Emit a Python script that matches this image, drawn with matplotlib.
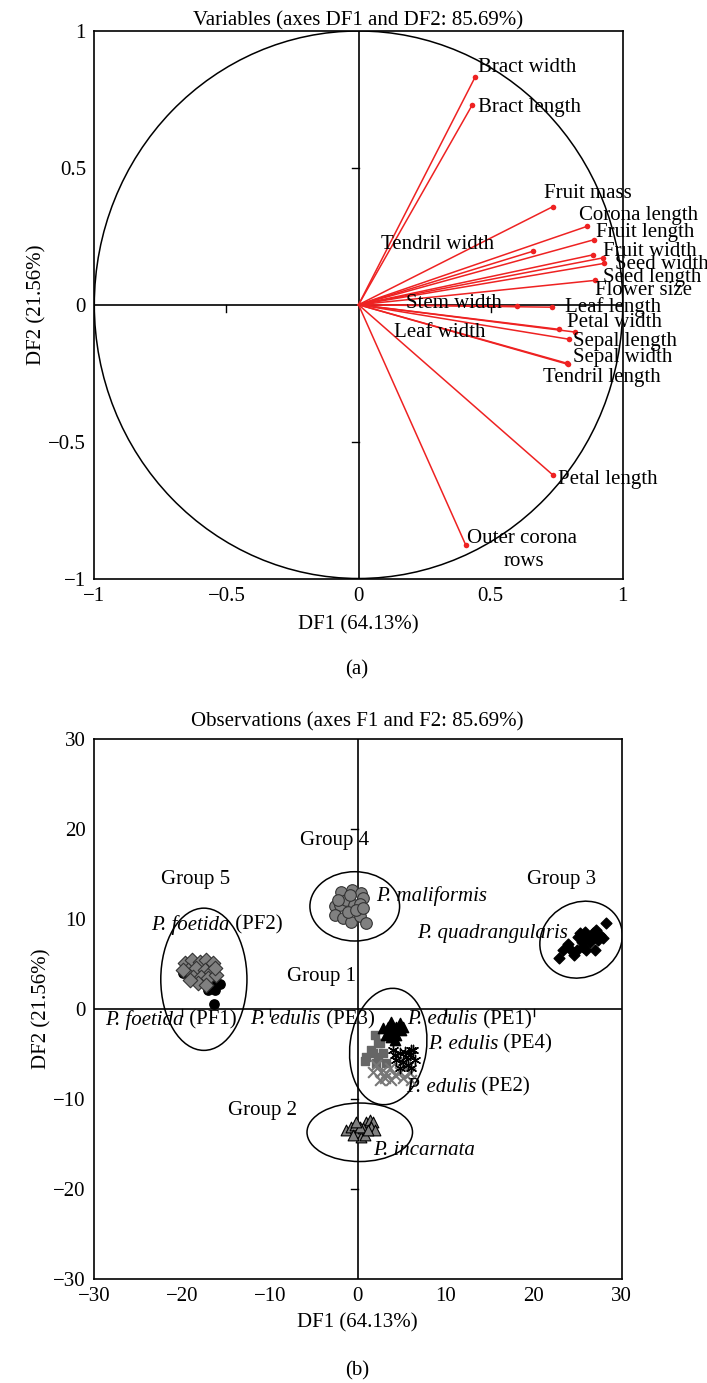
import matplotlib.pyplot as plt
from matplotlib.patches import Circle, Ellipse

plt.rcParams['font.family'] = ['Liberation Serif', 'DejaVu Serif']
plt.rcParams['axes.linewidth'] = 1.2

# ---- panel (a): variable loadings on DF1 / DF2 ----
var_names = ['Bract width', 'Bract length', 'Fruit mass', 'Corona length', 'Fruit length',
             'Tendril width', 'Fruit width', 'Seed width', 'Seed length', 'Flower size',
             'Leaf length', 'Stem width', 'Petal width', 'Sepal length', 'Sepal width',
             'Tendril length', 'Leaf width', 'Petal length', 'Outer corona\nrows']
df1 = [0.441, 0.430, 0.735, 0.864, 0.893, 0.659, 0.886, 0.929, 0.895, 0.924,
       0.734, 0.600, 0.821, 0.797, 0.794, 0.790, 0.760, 0.737, 0.406]
df2 = [0.831, 0.729, 0.358, 0.286, 0.238, 0.195, 0.182, 0.151, 0.089, 0.171,
       -0.009, -0.005, -0.100, -0.126, -0.218, -0.214, -0.090, -0.623, -0.878]
# label anchor positions (left edge, vertical centre)
lab_x = [0.454, 0.454, 0.703, 0.834, 0.899, 0.086, 0.926, 0.971, 0.926, 0.895,
         0.781, 0.180, 0.789, 0.812, 0.812, 0.699, 0.134, 0.755, 0.410]
lab_y = [0.866, 0.720, 0.406, 0.325, 0.263, 0.219, 0.194, 0.146, 0.099, 0.051,
         -0.007, 0.004, -0.066, -0.135, -0.194, -0.267, -0.102, -0.640, -0.855]
unit_ticks = [-1, -0.5, 0, 0.5, 1]
unit_labels = ['\u22121', '\u22120.5', '0', '0.5', '1']

# ---- panel (b): observations ----
pe_mal_x = [-1.86, -0.61, 0.42, 0.61, -2.62, -2.05, -1.29, -0.46, 0.23, -2.62,
            -1.67, -0.72, 0.23, 0.99, -1.10, -0.15, 0.61, -2.24, -0.91]
pe_mal_y = [13.0, 13.2, 12.9, 12.3, 11.4, 11.6, 12.1, 11.6, 11.7, 10.4,
            10.1, 9.7, 10.3, 9.6, 10.8, 11.0, 11.2, 12.1, 12.7]
pf2_x = [-19.68, -18.81, -17.97, -17.21, -16.46, -19.30, -18.35, -17.41, -16.65,
         -18.73, -17.78, -17.03, -16.08, -18.17, -17.21, -19.11, -19.87, -16.27]
pf2_y = [5.07, 5.44, 5.26, 5.44, 5.07, 4.33, 4.52, 4.33, 4.15,
         3.59, 3.59, 3.41, 3.78, 2.85, 2.67, 3.22, 4.33, 4.52]
pf1_x = [-19.87, -16.84, -16.27, -15.70, -17.03, -16.65, -16.38, -17.41]
pf1_y = [3.96, 2.48, 2.11, 2.74, 2.11, 3.04, 0.56, 3.59]
quad_x = [22.90, 23.29, 23.93, 24.31, 24.57, 25.07, 25.45, 25.26, 25.82, 26.20, 26.39,
          26.96, 27.15, 27.53, 27.91, 28.29, 25.63, 26.01, 24.88, 26.77, 27.34, 26.58]
quad_y = [5.63, 6.56, 7.22, 6.56, 6.00, 8.04, 7.48, 8.41, 8.59, 8.04, 7.48,
          6.56, 8.78, 8.22, 7.85, 9.59, 6.93, 6.56, 6.56, 8.41, 7.67, 7.85]
inc_x = [-1.29, -0.72, -0.34, 0.04, 0.42, 0.80, 0.99, 1.37, 1.74, 1.56, 1.93,
         0.61, -0.53, 0.23, 1.18, -0.15]
inc_y = [-13.44, -13.15, -12.89, -13.63, -14.19, -14.00, -12.52, -12.33, -12.52,
         -13.15, -13.44, -13.26, -14.00, -13.07, -13.44, -12.52]
pe1_x = [2.88, 3.45, 3.83, 4.02, 4.40, 4.78, 4.97, 3.26, 3.83, 4.40, 5.16, 4.21, 3.56]
pe1_y = [-2.15, -1.96, -1.41, -2.33, -1.96, -1.59, -2.33, -2.89, -3.07, -2.89,
         -1.96, -3.44, -2.52]
pe3_x = [1.93, 1.56, 2.50, 0.99, 2.31, 0.80, 1.74, 2.31, 2.88, 3.26, 2.12]
pe3_y = [-2.89, -4.56, -3.81, -5.30, -5.30, -5.74, -4.93, -3.81, -4.93, -6.04, -6.04]
pe4_x = [4.02, 4.78, 5.35, 5.92, 6.29, 4.40, 5.16, 5.73, 6.11, 4.78, 5.54, 6.48, 4.21, 6.11]
pe4_y = [-4.56, -4.93, -4.74, -5.11, -4.56, -5.67, -5.85, -6.22, -6.59, -6.59,
         -5.30, -5.67, -5.11, -4.56]
pe2_x = [2.12, 2.69, 2.50, 3.26, 3.64, 4.21, 4.78, 5.16, 5.92, 6.11, 3.07, 3.83, 1.74, 5.35]
pe2_y = [-6.22, -6.96, -7.89, -7.15, -6.59, -7.33, -6.96, -7.70, -7.15, -7.89,
         -7.70, -7.89, -6.96, -6.41]

# group ellipses: centre x, centre y, width, height, angle
ell_cx = [-0.34, -17.5, 25.4, 3.47, 0.23]
ell_cy = [11.4, 3.3, 7.7, -4.17, -13.7]
ell_w = [10.2, 9.8, 9.6, 8.7, 12.0]
ell_h = [7.7, 15.8, 8.3, 13.0, 6.5]
ell_ang = [0, 0, 25, -8, 0]

group_names = ['Group 4', 'Group 5', 'Group 3', 'Group 1', 'Group 2']
group_x = [-2.6, -18.4, 23.2, -4.1, -10.8]
group_y = [18.7, 14.4, 14.4, 3.6, -11.3]

sp_names = ['P. maliformis', 'P. quadrangularis', 'P. foetida', 'P. foetida', 'P. edulis',
            'P. edulis', 'P. edulis', 'P. edulis', 'P. incarnata']
sp_codes = ['', '', ' (PF2)', ' (PF1)', ' (PE3)', ' (PE1)', ' (PE4)', ' (PE2)', '']
sp_x = [2.05, 6.8, -23.5, -28.7, -12.2, 5.65, 7.96, 5.5, 1.8]
sp_y = [12.5, 8.4, 9.3, -1.2, -1.2, -1.2, -3.9, -8.7, -15.7]

obs_ticks = [-30, -20, -10, 0, 10, 20, 30]
obs_labels = ['\u221230', '\u221220', '\u221210', '0', '10', '20', '30']

FS = 15

fig = plt.figure(figsize=(7.07, 13.83), dpi=100)
ax1 = fig.add_axes([0.1334, 0.5817, 0.7474, 0.3959])
ax2 = fig.add_axes([0.1329, 0.0752, 0.7462, 0.3905])


def zero_axes(ax, ticks, dx, dy):
    ax.axhline(0, color='black', lw=1.2, zorder=1)
    ax.axvline(0, color='black', lw=1.2, zorder=1)
    for t in ticks[1:-1]:
        if t == 0:
            continue
        ax.plot([t, t], [0, -dy], color='black', lw=1, zorder=1)
        ax.plot([0, -dx], [t, t], color='black', lw=1, zorder=1)
    ax.set_xlim(ticks[0], ticks[-1])
    ax.set_ylim(ticks[0], ticks[-1])
    ax.tick_params(length=0, labelsize=FS, pad=6)


# panel (a)
zero_axes(ax1, unit_ticks, 0.026, 0.025)
ax1.add_patch(Circle((0, 0), 1, fill=False, color='black', lw=1.1, zorder=2))
for x, y in zip(df1, df2):
    ax1.plot([0, x], [0, y], color='#ee2222', lw=1.1, zorder=3)
ax1.scatter(df1, df2, s=16, color='#ee2222', zorder=4, linewidths=0)
for name, x, y in zip(var_names, lab_x, lab_y):
    if '\n' in name:
        first, second = name.split('\n')
        ax1.text(x, y, first, fontsize=FS, ha='left', va='center', zorder=5)
        ax1.text(x + 0.217, y - 0.083, second, fontsize=FS, ha='center', va='center', zorder=5)
    else:
        ax1.text(x, y, name, fontsize=FS, ha='left', va='center', zorder=5)
ax1.set_xticks(unit_ticks, unit_labels)
ax1.set_yticks(unit_ticks, unit_labels)
ax1.set_xlabel('DF1 (64.13%)', fontsize=FS, labelpad=7)
ax1.set_ylabel('DF2 (21.56%)', fontsize=FS, labelpad=1)
ax1.set_title('Variables (axes DF1 and DF2: 85.69%)', fontsize=FS, pad=3)

# panel (b)
zero_axes(ax2, obs_ticks, 0.8, 0.8)
for cx, cy, w, h, a in zip(ell_cx, ell_cy, ell_w, ell_h, ell_ang):
    ax2.add_patch(Ellipse((cx, cy), w, h, angle=a, fill=False, color='black', lw=1.1, zorder=2))

ax2.scatter(pe_mal_x, pe_mal_y, s=70, marker='o', facecolor='#808080', edgecolor='#333333',
            linewidths=0.8, zorder=3)
ax2.scatter(pf1_x, pf1_y, s=45, marker='o', facecolor='black', edgecolor='black', zorder=3)
ax2.scatter(pf2_x, pf2_y, s=55, marker='D', facecolor='#808080', edgecolor='#333333',
            linewidths=0.8, zorder=4)
ax2.scatter(quad_x, quad_y, s=30, marker='D', facecolor='black', edgecolor='black', zorder=3)
ax2.scatter(inc_x, inc_y, s=60, marker='^', facecolor='#808080', edgecolor='black',
            linewidths=0.8, zorder=3)
ax2.scatter(pe3_x, pe3_y, s=40, marker='s', facecolor='#666666', edgecolor='#666666', zorder=3)
ax2.scatter(pe2_x, pe2_y, s=60, marker='x', color='#777777', linewidths=1.5, zorder=3)
ax2.scatter(pe4_x, pe4_y, s=55, marker=(6, 2, 0), color='black', linewidths=1.0, zorder=4)
ax2.scatter(pe1_x, pe1_y, s=55, marker='^', facecolor='black', edgecolor='black', zorder=4)

for name, x, y in zip(group_names, group_x, group_y):
    ax2.text(x, y, name, fontsize=FS, ha='center', va='center')

for nm, cd, x, y in zip(sp_names, sp_codes, sp_x, sp_y):
    t = ax2.text(x, y, nm, fontsize=FS, ha='left', va='center', style='italic', zorder=5)
    if cd:
        ax2.annotate(cd, xycoords=t, xy=(1, 0.5), va='center', ha='left', fontsize=FS, zorder=5)

ax2.set_xticks(obs_ticks, obs_labels)
ax2.set_yticks(obs_ticks, obs_labels)
ax2.set_xlabel('DF1 (64.13%)', fontsize=FS, labelpad=5)
ax2.set_ylabel('DF2 (21.56%)', fontsize=FS, labelpad=1)
ax2.set_title('Observations (axes F1 and F2: 85.69%)', fontsize=FS, pad=9)

fig.text(0.505, 1 - 670 / 1383, '(a)', fontsize=FS, ha='center', va='center')
fig.text(0.505, 1 - 1371 / 1383, '(b)', fontsize=FS, ha='center', va='center')

fig.savefig('out.png', dpi=100)
